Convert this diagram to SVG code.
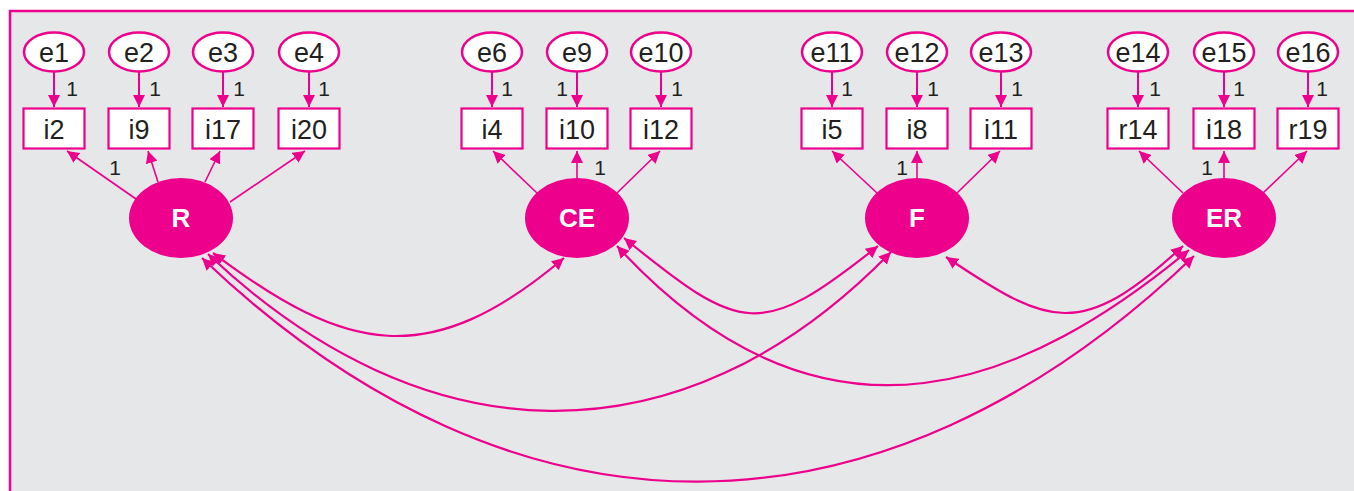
<svg xmlns="http://www.w3.org/2000/svg" width="1354" height="491" viewBox="0 0 1354 491">
<defs>
<marker id="ah" viewBox="0 0 12 12" refX="12" refY="6" markerWidth="12" markerHeight="12" markerUnits="userSpaceOnUse" orient="auto-start-reverse"><path d="M0,0 L12,6 L0,12 z" fill="#ec008c"/></marker>
</defs>
<style>
.err{fill:#fff;stroke:#ec008c;stroke-width:2.5}
.box{fill:#fff;stroke:#ec008c;stroke-width:2.2}
.lat{fill:#ec008c}
.t{font-family:"Liberation Sans",Arial,sans-serif;font-size:27px;fill:#231f20;text-anchor:middle}
.lt{font-family:"Liberation Sans",Arial,sans-serif;font-size:26px;font-weight:bold;fill:#fff;text-anchor:middle}
.one{font-family:"Liberation Sans",Arial,sans-serif;font-size:21px;fill:#231f20;text-anchor:middle}
.ea{stroke:#ec008c;stroke-width:2;fill:none;marker-end:url(#ah)}
.la{stroke:#ec008c;stroke-width:1.6;fill:none;marker-end:url(#ah)}
.cv{stroke:#ec008c;stroke-width:2.2;fill:none;marker-start:url(#ah);marker-end:url(#ah)}
</style>
<rect x="0" y="0" width="1354" height="491" fill="#fff"/>
<rect x="10" y="11" width="1350" height="490" fill="#e6e7e8"/>
<path d="M10,491 V11 H1354" fill="none" stroke="#ec008c" stroke-width="2.5"/>
<g id="connectors">
<line class="ea" x1="54" y1="72" x2="54" y2="107"/>
<line class="ea" x1="139" y1="72" x2="139" y2="107"/>
<line class="ea" x1="223" y1="72" x2="223" y2="107"/>
<line class="ea" x1="309" y1="72" x2="309" y2="107"/>
<line class="ea" x1="492" y1="72" x2="492" y2="107"/>
<line class="ea" x1="577" y1="72" x2="577" y2="107"/>
<line class="ea" x1="661" y1="72" x2="661" y2="107"/>
<line class="ea" x1="832" y1="72" x2="832" y2="107"/>
<line class="ea" x1="917" y1="72" x2="917" y2="107"/>
<line class="ea" x1="1001" y1="72" x2="1001" y2="107"/>
<line class="ea" x1="1138" y1="72" x2="1138" y2="107"/>
<line class="ea" x1="1224" y1="72" x2="1224" y2="107"/>
<line class="ea" x1="1308" y1="72" x2="1308" y2="107"/>
<line class="la" x1="136" y1="199" x2="67" y2="151"/>
<line class="la" x1="158" y1="182" x2="148" y2="151"/>
<line class="la" x1="205" y1="182" x2="220" y2="151"/>
<line class="la" x1="230" y1="202" x2="305" y2="151"/>
<line class="la" x1="537" y1="193" x2="493" y2="151"/>
<line class="la" x1="577" y1="178" x2="577" y2="151"/>
<line class="la" x1="617" y1="193" x2="660" y2="151"/>
<line class="la" x1="877" y1="193" x2="832" y2="151"/>
<line class="la" x1="917" y1="178" x2="917" y2="151"/>
<line class="la" x1="957" y1="193" x2="1000" y2="151"/>
<line class="la" x1="1183" y1="193" x2="1139" y2="151"/>
<line class="la" x1="1224" y1="178" x2="1224" y2="151"/>
<line class="la" x1="1263" y1="193" x2="1307" y2="151"/>
<path class="cv" d="M213,253 C346,353 429,372 564,258"/>
<path class="cv" d="M208,254 C421,456 678,471 891,252"/>
<path class="cv" d="M202,258 C515,557 881,556 1194,256"/>
<path class="cv" d="M624,238 C742,334 760,340 878,246"/>
<path class="cv" d="M617,246 C829,477 1033,379 1189,250"/>
<path class="cv" d="M946,257 C1049,326 1080,341 1183,246"/>
<text class="one" x="72" y="95.5">1</text>
<text class="one" x="155" y="95.5">1</text>
<text class="one" x="239" y="95.5">1</text>
<text class="one" x="324" y="95.5">1</text>
<text class="one" x="507" y="95.5">1</text>
<text class="one" x="562" y="95.5">1</text>
<text class="one" x="677" y="95.5">1</text>
<text class="one" x="847" y="95.5">1</text>
<text class="one" x="933" y="95.5">1</text>
<text class="one" x="1017" y="95.5">1</text>
<text class="one" x="1155" y="95.5">1</text>
<text class="one" x="1239" y="95.5">1</text>
<text class="one" x="1322" y="95.5">1</text>
<text class="one" x="115" y="174.5">1</text>
<text class="one" x="600" y="174.5">1</text>
<text class="one" x="902" y="174.5">1</text>
<text class="one" x="1207" y="174.5">1</text>
</g>
<g id="e1"><ellipse class="err" cx="54" cy="52" rx="30" ry="19.5"/><text class="t" x="54" y="61.5">e1</text></g>
<g id="e2"><ellipse class="err" cx="139" cy="52" rx="30" ry="19.5"/><text class="t" x="139" y="61.5">e2</text></g>
<g id="e3"><ellipse class="err" cx="223" cy="52" rx="30" ry="19.5"/><text class="t" x="223" y="61.5">e3</text></g>
<g id="e4"><ellipse class="err" cx="309" cy="52" rx="30" ry="19.5"/><text class="t" x="309" y="61.5">e4</text></g>
<g id="e6"><ellipse class="err" cx="492" cy="52" rx="30" ry="19.5"/><text class="t" x="492" y="61.5">e6</text></g>
<g id="e9"><ellipse class="err" cx="577" cy="52" rx="30" ry="19.5"/><text class="t" x="577" y="61.5">e9</text></g>
<g id="e10"><ellipse class="err" cx="661" cy="52" rx="30" ry="19.5"/><text class="t" x="661" y="61.5">e10</text></g>
<g id="e11"><ellipse class="err" cx="832" cy="52" rx="30" ry="19.5"/><text class="t" x="832" y="61.5">e11</text></g>
<g id="e12"><ellipse class="err" cx="917" cy="52" rx="30" ry="19.5"/><text class="t" x="917" y="61.5">e12</text></g>
<g id="e13"><ellipse class="err" cx="1001" cy="52" rx="30" ry="19.5"/><text class="t" x="1001" y="61.5">e13</text></g>
<g id="e14"><ellipse class="err" cx="1138" cy="52" rx="30" ry="19.5"/><text class="t" x="1138" y="61.5">e14</text></g>
<g id="e15"><ellipse class="err" cx="1224" cy="52" rx="30" ry="19.5"/><text class="t" x="1224" y="61.5">e15</text></g>
<g id="e16"><ellipse class="err" cx="1308" cy="52" rx="30" ry="19.5"/><text class="t" x="1308" y="61.5">e16</text></g>
<g id="i2"><rect class="box" x="23.5" y="108.5" width="61" height="40"/><text class="t" x="54" y="138.5">i2</text></g>
<g id="i9"><rect class="box" x="108.5" y="108.5" width="61" height="40"/><text class="t" x="139" y="138.5">i9</text></g>
<g id="i17"><rect class="box" x="192.5" y="108.5" width="61" height="40"/><text class="t" x="223" y="138.5">i17</text></g>
<g id="i20"><rect class="box" x="278.5" y="108.5" width="61" height="40"/><text class="t" x="309" y="138.5">i20</text></g>
<g id="i4"><rect class="box" x="461.5" y="108.5" width="61" height="40"/><text class="t" x="492" y="138.5">i4</text></g>
<g id="i10"><rect class="box" x="546.5" y="108.5" width="61" height="40"/><text class="t" x="577" y="138.5">i10</text></g>
<g id="i12"><rect class="box" x="630.5" y="108.5" width="61" height="40"/><text class="t" x="661" y="138.5">i12</text></g>
<g id="i5"><rect class="box" x="801.5" y="108.5" width="61" height="40"/><text class="t" x="832" y="138.5">i5</text></g>
<g id="i8"><rect class="box" x="886.5" y="108.5" width="61" height="40"/><text class="t" x="917" y="138.5">i8</text></g>
<g id="i11"><rect class="box" x="970.5" y="108.5" width="61" height="40"/><text class="t" x="1001" y="138.5">i11</text></g>
<g id="r14"><rect class="box" x="1107.5" y="108.5" width="61" height="40"/><text class="t" x="1138" y="138.5">r14</text></g>
<g id="i18"><rect class="box" x="1193.5" y="108.5" width="61" height="40"/><text class="t" x="1224" y="138.5">i18</text></g>
<g id="r19"><rect class="box" x="1277.5" y="108.5" width="61" height="40"/><text class="t" x="1308" y="138.5">r19</text></g>
<g id="R"><ellipse class="lat" cx="181" cy="218" rx="52" ry="40"/><text class="lt" x="181" y="227">R</text></g>
<g id="CE"><ellipse class="lat" cx="577" cy="218" rx="52" ry="40"/><text class="lt" x="577" y="227">CE</text></g>
<g id="F"><ellipse class="lat" cx="917" cy="218" rx="52" ry="40"/><text class="lt" x="917" y="227">F</text></g>
<g id="ER"><ellipse class="lat" cx="1224" cy="218" rx="52" ry="40"/><text class="lt" x="1224" y="227">ER</text></g>
</svg>
